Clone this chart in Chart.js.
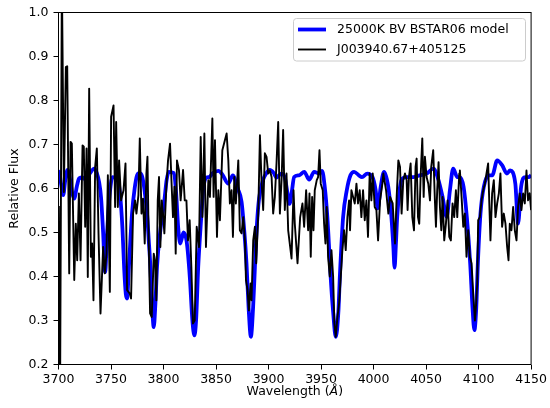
<!DOCTYPE html>
<html>
<head>
<meta charset="utf-8">
<title>Spectrum comparison</title>
<script src="https://cdn.jsdelivr.net/npm/chart.js@4/dist/chart.umd.min.js"></script>
<style>
  html, body { margin: 0; padding: 0; background: #ffffff; }
  canvas { display: block; }
</style>
</head>
<body>
<canvas id="spec" width="550" height="408"></canvas>
<script>
// ---- data -------------------------------------------------------------
const seriesNames = ['25000K BV BSTAR06 model', 'J003940.67+405125'];

// synthetic model spectrum (wavelength in Angstrom, relative flux)
const modelWave = [
  3700.0, 3700.7, 3702.5, 3704.5, 3706.5, 3708.6, 3711.0, 3713.0, 3715.0, 3717.5,
  3719.7, 3723.0, 3726.0, 3730.0, 3734.0, 3736.5, 3738.7, 3740.5, 3742.5, 3744.4,
  3746.3, 3748.5, 3751.4, 3756.2, 3758.5, 3760.9, 3762.5, 3764.1, 3765.3, 3767.0,
  3770.0, 3772.5, 3774.8, 3777.0, 3779.6, 3782.0, 3784.3, 3786.0, 3787.5, 3789.0,
  3790.7, 3792.3, 3793.8, 3797.0, 3800.8, 3803.0, 3805.0, 3809.7, 3812.0, 3814.0,
  3816.0, 3819.0, 3822.0, 3825.0, 3827.5, 3829.4, 3831.0, 3833.0, 3835.5, 3838.0,
  3841.0, 3843.5, 3847.0, 3852.2, 3856.0, 3861.7, 3866.0, 3870.6, 3874.3, 3877.0,
  3879.0, 3881.0, 3883.2, 3885.3, 3887.0, 3889.0, 3891.0, 3894.6, 3898.0, 3901.0,
  3905.0, 3907.5, 3912.0, 3915.5, 3918.0, 3920.0, 3922.0, 3924.4, 3929.0, 3934.0,
  3938.7, 3943.4, 3948.0, 3951.0, 3953.5, 3956.0, 3958.0, 3959.0, 3961.5, 3964.0,
  3966.5, 3968.0, 3971.0, 3974.5, 3978.0, 3981.5, 3986.0, 3989.0, 3994.0, 3999.0,
  4002.0, 4004.0, 4006.8, 4010.0, 4014.0, 4017.0, 4018.8, 4020.0, 4021.2, 4022.5,
  4026.7, 4031.0, 4038.0, 4044.0, 4050.5, 4057.0, 4061.7, 4065.7, 4069.6, 4072.7,
  4075.8, 4079.7, 4082.0, 4085.7, 4088.8, 4092.0, 4094.2, 4096.0, 4097.8, 4099.3,
  4101.8, 4105.0, 4109.7, 4113.0, 4117.7, 4122.4, 4127.0, 4130.0, 4135.0, 4137.6,
  4140.5, 4144.5, 4147.7, 4150.0
];
const modelFlux = [
  0.640, 0.638, 0.610, 0.585, 0.620, 0.642, 0.620, 0.590, 0.577, 0.605,
  0.623, 0.625, 0.620, 0.635, 0.645, 0.635, 0.614, 0.580, 0.500, 0.410,
  0.500, 0.580, 0.626, 0.623, 0.590, 0.509, 0.420, 0.360, 0.350, 0.420,
  0.543, 0.600, 0.630, 0.635, 0.628, 0.595, 0.543, 0.480, 0.422, 0.340,
  0.285, 0.340, 0.422, 0.505, 0.573, 0.620, 0.638, 0.635, 0.590, 0.510,
  0.475, 0.500, 0.480, 0.400, 0.300, 0.266, 0.300, 0.420, 0.520, 0.600,
  0.625, 0.626, 0.635, 0.640, 0.632, 0.611, 0.630, 0.600, 0.570, 0.500,
  0.430, 0.330, 0.263, 0.330, 0.420, 0.520, 0.578, 0.618, 0.635, 0.642,
  0.635, 0.625, 0.634, 0.625, 0.590, 0.565, 0.590, 0.626, 0.630, 0.638,
  0.620, 0.638, 0.634, 0.640, 0.604, 0.535, 0.450, 0.405, 0.320, 0.263,
  0.320, 0.405, 0.535, 0.596, 0.630, 0.638, 0.630, 0.626, 0.634, 0.626,
  0.596, 0.555, 0.604, 0.638, 0.604, 0.535, 0.470, 0.420, 0.470, 0.535,
  0.620, 0.626, 0.626, 0.630, 0.634, 0.645, 0.620, 0.581, 0.535, 0.596,
  0.645, 0.626, 0.626, 0.604, 0.535, 0.430, 0.330, 0.278, 0.330, 0.430,
  0.543, 0.604, 0.630, 0.630, 0.664, 0.653, 0.634, 0.641, 0.611, 0.520,
  0.604, 0.626, 0.626, 0.630
];

// observed spectrum of the star
const obsWave = [
  3700.3, 3701.5, 3703.2, 3705.1, 3707.0, 3708.3, 3710.2, 3711.5, 3712.7, 3715.0,
  3716.5, 3717.8, 3719.4, 3721.0, 3722.9, 3724.1, 3725.4, 3726.7, 3727.9, 3729.2,
  3730.8, 3732.0, 3733.3, 3734.9, 3736.5, 3738.1, 3740.0, 3742.5, 3744.1, 3745.7,
  3747.0, 3748.9, 3750.1, 3752.4, 3753.9, 3754.9, 3756.5, 3757.7, 3759.6, 3761.9,
  3763.8, 3765.3, 3767.9, 3769.1, 3771.0, 3772.9, 3774.2, 3776.1, 3777.4, 3779.0,
  3780.5, 3782.1, 3783.7, 3784.7, 3785.9, 3787.2, 3788.8, 3790.7, 3791.9, 3793.2,
  3794.5, 3795.7, 3797.0, 3798.3, 3799.5, 3800.8, 3802.7, 3804.3, 3806.2, 3807.8,
  3809.0, 3810.4, 3811.6, 3812.8, 3814.7, 3816.3, 3818.6, 3820.2, 3821.8, 3823.3,
  3824.9, 3826.5, 3828.0, 3829.7, 3831.6, 3833.8, 3835.4, 3837.0, 3838.9, 3840.4,
  3842.7, 3844.2, 3846.5, 3847.7, 3849.0, 3850.9, 3852.2, 3853.7, 3856.0, 3858.5,
  3860.1, 3861.7, 3863.2, 3864.8, 3866.1, 3867.4, 3868.9, 3871.2, 3872.7, 3874.3,
  3875.9, 3877.5, 3878.5, 3880.0, 3881.3, 3882.9, 3883.8, 3885.4, 3887.0, 3888.3,
  3890.2, 3891.8, 3893.3, 3894.9, 3896.5, 3898.1, 3899.7, 3901.3, 3902.9, 3904.4,
  3906.0, 3907.6, 3909.2, 3910.8, 3912.4, 3913.9, 3915.5, 3917.1, 3918.7, 3921.9,
  3923.8, 3925.0, 3927.6, 3930.1, 3932.3, 3933.9, 3935.8, 3937.7, 3939.0, 3940.2,
  3941.5, 3942.8, 3944.0, 3945.9, 3947.2, 3948.5, 3949.7, 3951.6, 3952.9, 3954.2,
  3955.4, 3956.7, 3958.3, 3959.9, 3961.5, 3962.7, 3964.0, 3965.6, 3967.2, 3968.8,
  3970.3, 3971.9, 3973.5, 3975.1, 3976.7, 3977.6, 3978.9, 3980.5, 3982.1, 3983.7,
  3985.2, 3986.8, 3988.4, 3990.0, 3991.6, 3993.2, 3994.7, 3996.3, 3997.9, 3999.2,
  4001.1, 4002.7, 4004.3, 4006.2, 4008.4, 4009.3, 4011.9, 4014.1, 4015.7, 4018.2,
  4020.4, 4022.0, 4023.6, 4025.2, 4026.7, 4028.3, 4029.9, 4031.5, 4032.4, 4033.7,
  4035.3, 4036.9, 4038.5, 4040.0, 4041.0, 4042.3, 4043.5, 4044.8, 4046.4, 4047.7,
  4048.9, 4050.5, 4052.1, 4053.7, 4054.9, 4056.8, 4058.4, 4059.4, 4060.6, 4061.9,
  4063.2, 4064.5, 4065.7, 4067.3, 4068.9, 4070.5, 4072.1, 4073.6, 4075.2, 4076.8,
  4078.4, 4079.7, 4081.6, 4082.2, 4083.8, 4085.4, 4086.9, 4088.5, 4090.1, 4091.7,
  4093.3, 4094.9, 4096.5, 4097.7, 4098.7, 4099.6, 4101.2, 4102.8, 4104.4, 4106.0,
  4107.5, 4109.1, 4110.4, 4111.3, 4112.9, 4114.5, 4116.1, 4117.7, 4119.3, 4120.8,
  4122.4, 4124.0, 4125.6, 4127.2, 4128.5, 4129.7, 4131.3, 4132.9, 4134.5, 4136.1,
  4137.6, 4139.2, 4140.8, 4142.4, 4144.0, 4145.6, 4147.1, 4148.7, 4150.0
];
const obsFlux = [
  0.560, 0.120, 1.080, 0.592, 0.876, 0.878, 0.407, 0.706, 0.702, 0.392,
  0.520, 0.437, 0.589, 0.437, 0.698, 0.695, 0.513, 0.691, 0.399, 0.827,
  0.445, 0.475, 0.346, 0.649, 0.691, 0.498, 0.316, 0.467, 0.407, 0.452,
  0.630, 0.365, 0.763, 0.789, 0.558, 0.751, 0.558, 0.664, 0.573, 0.596,
  0.657, 0.369, 0.361, 0.350, 0.543, 0.573, 0.543, 0.585, 0.714, 0.543,
  0.577, 0.475, 0.634, 0.672, 0.482, 0.316, 0.308, 0.452, 0.437, 0.346,
  0.573, 0.626, 0.467, 0.573, 0.543, 0.498, 0.604, 0.664, 0.702, 0.604,
  0.535, 0.604, 0.452, 0.664, 0.642, 0.573, 0.642, 0.573, 0.573, 0.482,
  0.528, 0.422, 0.293, 0.300, 0.513, 0.467, 0.717, 0.535, 0.725, 0.467,
  0.619, 0.581, 0.759, 0.581, 0.710, 0.490, 0.596, 0.528, 0.687, 0.710,
  0.725, 0.664, 0.566, 0.596, 0.490, 0.626, 0.566, 0.664, 0.505, 0.498,
  0.535, 0.482, 0.392, 0.369, 0.323, 0.384, 0.346, 0.482, 0.513, 0.430,
  0.543, 0.721, 0.619, 0.551, 0.680, 0.672, 0.634, 0.641, 0.626, 0.543,
  0.581, 0.657, 0.751, 0.543, 0.619, 0.733, 0.551, 0.634, 0.505, 0.441,
  0.596, 0.520, 0.430, 0.535, 0.566, 0.513, 0.596, 0.505, 0.589, 0.445,
  0.581, 0.505, 0.596, 0.619, 0.626, 0.687, 0.611, 0.596, 0.520, 0.475,
  0.558, 0.445, 0.400, 0.460, 0.400, 0.293, 0.263, 0.308, 0.339, 0.400,
  0.460, 0.505, 0.460, 0.535, 0.573, 0.505, 0.596, 0.581, 0.566, 0.611,
  0.566, 0.596, 0.535, 0.596, 0.528, 0.573, 0.490, 0.634, 0.573, 0.634,
  0.558, 0.551, 0.482, 0.573, 0.611, 0.634, 0.596, 0.543, 0.581, 0.566,
  0.475, 0.581, 0.664, 0.649, 0.543, 0.619, 0.634, 0.619, 0.551, 0.626,
  0.657, 0.535, 0.505, 0.649, 0.668, 0.535, 0.520, 0.626, 0.714, 0.581,
  0.672, 0.626, 0.611, 0.573, 0.649, 0.687, 0.573, 0.513, 0.596, 0.660,
  0.558, 0.505, 0.581, 0.482, 0.520, 0.573, 0.490, 0.482, 0.566, 0.535,
  0.596, 0.535, 0.634, 0.641, 0.581, 0.513, 0.543, 0.445, 0.505, 0.445,
  0.430, 0.361, 0.300, 0.339, 0.384, 0.528, 0.535, 0.573, 0.596, 0.611,
  0.634, 0.657, 0.551, 0.482, 0.589, 0.619, 0.535, 0.566, 0.589, 0.634,
  0.513, 0.543, 0.520, 0.467, 0.437, 0.520, 0.505, 0.558, 0.505, 0.482,
  0.558, 0.589, 0.551, 0.589, 0.566, 0.641, 0.573, 0.589, 0.551
];

// axis ticks
const xTickValues = [3700, 3750, 3800, 3850, 3900, 3950, 4000, 4050, 4100, 4150];
const xTickLabels = ['3700', '3750', '3800', '3850', '3900', '3950', '4000', '4050', '4100', '4150'];
const yTickValues = [0.2, 0.3, 0.4, 0.5, 0.6, 0.7, 0.8, 0.9, 1.0];
const yTickLabels = ['0.2', '0.3', '0.4', '0.5', '0.6', '0.7', '0.8', '0.9', '1.0'];

const xLabelParts = ['Wavelength (', '\u00C5', ')'];
const yLabel = 'Relative Flux';

// ---- styling ---------------------------------------------------------
const FONT = "'DejaVu Sans', 'Liberation Sans', sans-serif";
const FONT_SIZE = 12.5;
const MODEL_COLOR = '#0000ff';
const OBS_COLOR = '#000000';

const toPoints = (xs, ys) => xs.map((x, i) => ({ x: x, y: ys[i] }));

// frame around the plotting area, the x title and the in-plot legend
const decorations = {
  id: 'decorations',
  afterDraw(chart) {
    const ctx = chart.ctx;
    const a = chart.chartArea;
    ctx.save();

    // frame
    ctx.strokeStyle = '#000000';
    ctx.lineWidth = 1;
    ctx.strokeRect(a.left, a.top, a.right - a.left, a.bottom - a.top);

    // x axis title with an italic Angstrom sign
    const normal = FONT_SIZE + 'px ' + FONT;
    const italic = 'italic ' + FONT_SIZE + 'px ' + FONT;
    const fonts = [normal, italic, normal];
    let total = 0;
    const widths = xLabelParts.map((t, i) => {
      ctx.font = fonts[i];
      const w = ctx.measureText(t).width;
      total += w;
      return w;
    });
    let x = (a.left + a.right) / 2 - total / 2;
    const ty = 392;
    ctx.fillStyle = '#000000';
    ctx.textBaseline = 'middle';
    ctx.textAlign = 'left';
    xLabelParts.forEach((t, i) => {
      ctx.font = fonts[i];
      ctx.fillText(t, x, ty);
      x += widths[i];
    });

    // legend box in the upper right corner
    const boxL = 293.5, boxT = 18.5, boxW = 232, boxH = 42.5, r = 3;
    ctx.beginPath();
    ctx.moveTo(boxL + r, boxT);
    ctx.lineTo(boxL + boxW - r, boxT);
    ctx.arcTo(boxL + boxW, boxT, boxL + boxW, boxT + r, r);
    ctx.lineTo(boxL + boxW, boxT + boxH - r);
    ctx.arcTo(boxL + boxW, boxT + boxH, boxL + boxW - r, boxT + boxH, r);
    ctx.lineTo(boxL + r, boxT + boxH);
    ctx.arcTo(boxL, boxT + boxH, boxL, boxT + boxH - r, r);
    ctx.lineTo(boxL, boxT + r);
    ctx.arcTo(boxL, boxT, boxL + r, boxT, r);
    ctx.closePath();
    ctx.fillStyle = 'rgba(255,255,255,0.8)';
    ctx.fill();
    ctx.strokeStyle = '#cccccc';
    ctx.lineWidth = 1;
    ctx.stroke();

    const rows = [
      { label: chart.data.datasets[1].label, color: MODEL_COLOR, width: 3.8, y: 29.5 },
      { label: chart.data.datasets[0].label, color: OBS_COLOR, width: 1.9, y: 49.5 }
    ];
    ctx.font = normal;
    ctx.textBaseline = 'middle';
    rows.forEach(row => {
      ctx.beginPath();
      ctx.moveTo(298, row.y);
      ctx.lineTo(326, row.y);
      ctx.strokeStyle = row.color;
      ctx.lineWidth = row.width;
      ctx.lineCap = 'butt';
      ctx.stroke();
      ctx.fillStyle = '#000000';
      ctx.fillText(row.label, 337, row.y);
    });

    ctx.restore();
  }
};

new Chart(document.getElementById('spec'), {
  type: 'line',
  data: {
    datasets: [
      {
        label: seriesNames[1],
        data: toPoints(obsWave, obsFlux),
        borderColor: OBS_COLOR,
        borderWidth: 1.9,
        borderJoinStyle: 'round',
        pointRadius: 0,
        tension: 0,
        fill: false,
        clip: 0,
        order: 0
      },
      {
        label: seriesNames[0],
        data: toPoints(modelWave, modelFlux),
        borderColor: MODEL_COLOR,
        borderWidth: 3.8,
        borderJoinStyle: 'round',
        cubicInterpolationMode: 'monotone',
        pointRadius: 0,
        fill: false,
        clip: 0,
        order: 1
      }
    ]
  },
  options: {
    responsive: false,
    animation: false,
    devicePixelRatio: 1,
    parsing: false,
    normalized: true,
    layout: { padding: { top: 12.5, right: 18, bottom: 0, left: 0 } },
    plugins: {
      legend: { display: false },
      tooltip: { enabled: false }
    },
    scales: {
      x: {
        type: 'linear',
        min: 3700,
        max: 4150,
        afterFit(scale) { scale.height = 43.5; },
        afterBuildTicks(scale) { scale.ticks = xTickValues.map(v => ({ value: v })); },
        border: { display: false },
        grid: {
          drawOnChartArea: false,
          drawTicks: true,
          tickLength: 5,
          color: '#000000',
          lineWidth: 1
        },
        ticks: {
          autoSkip: false,
          maxRotation: 0,
          padding: 3,
          color: '#000000',
          font: { family: FONT, size: FONT_SIZE },
          callback: (v, i) => xTickLabels[i]
        },
        title: { display: false }
      },
      y: {
        type: 'linear',
        min: 0.2,
        max: 1.0,
        afterFit(scale) { scale.width = 58.5; },
        afterBuildTicks(scale) { scale.ticks = yTickValues.map(v => ({ value: v })); },
        border: { display: false },
        grid: {
          drawOnChartArea: false,
          drawTicks: true,
          tickLength: 5,
          color: '#000000',
          lineWidth: 1
        },
        ticks: {
          autoSkip: false,
          padding: 5,
          color: '#000000',
          font: { family: FONT, size: FONT_SIZE },
          callback: (v, i) => yTickLabels[i]
        },
        title: {
          display: true,
          text: yLabel,
          color: '#000000',
          font: { family: FONT, size: FONT_SIZE },
          padding: { top: 7.5, bottom: 0 }
        }
      }
    }
  },
  plugins: [decorations]
});
</script>
</body>
</html>
